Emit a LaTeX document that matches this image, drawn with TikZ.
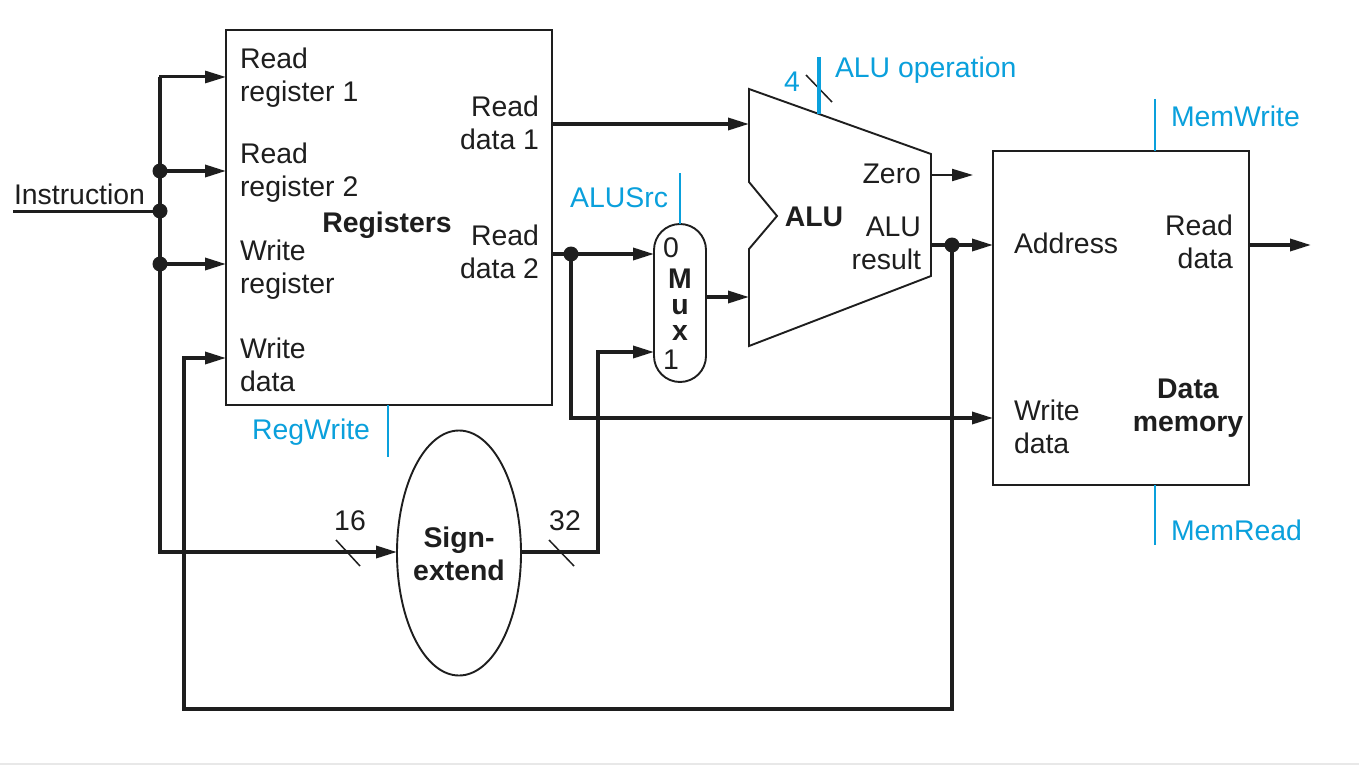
\documentclass[tikz,border=0pt]{standalone}
\usepackage{fontspec}
\setmainfont{Liberation Sans}
\usetikzlibrary{arrows.meta,shapes.geometric}
\definecolor{ctlblue}{HTML}{0AA0DC}
\definecolor{inkk}{HTML}{1E1E1E}
\tikzset{
  box/.style={draw=inkk,line width=1.9pt,inner sep=0pt,outer sep=0pt,fill=white},
  thickwire/.style={draw=inkk,line width=3.4pt,-{Triangle[length=21pt,width=12pt]},shorten >=0pt},
  plainwire/.style={draw=inkk,line width=3.4pt},
  thinwire/.style={draw=inkk,line width=2.2pt,-{Triangle[length=21pt,width=12pt]}},
  ctlwire/.style={draw=ctlblue,line width=2pt},
  slash/.style={draw=inkk,line width=1.5pt},
  dot/.style={circle,fill=inkk,inner sep=0pt,minimum size=15pt,outer sep=0pt},
  lbl/.style={font=\fontsize{28.4}{33}\selectfont,text=inkk,inner sep=0pt,outer sep=0pt},
  lbll/.style={lbl,anchor=west,align=left},
  lblr/.style={lbl,anchor=east,align=right},
  bold/.style={font=\fontsize{28.4}{33}\selectfont\bfseries,text=inkk,inner sep=0pt,outer sep=0pt,align=center},
  muxlbl/.style={font=\fontsize{28.4}{26}\selectfont\bfseries,text=inkk,inner sep=0pt,outer sep=0pt,align=center},
  ctl/.style={font=\fontsize{28.4}{33}\selectfont,text=ctlblue,inner sep=0pt,outer sep=0pt},
}
\begin{document}
\begin{tikzpicture}[x=1pt,y=-1pt]
\useasboundingbox (0,0) rectangle (1359,765);
\fill[white] (0,0) rectangle (1359,765);
\fill[black!9] (0,763) rectangle (1359,765);

% blocks
\node[box,minimum width=326pt,minimum height=375pt] (regs) at (389,217.5) {};
\node[box,minimum width=256pt,minimum height=334pt] (mem) at (1121,318) {};
\node[box,minimum width=52pt,minimum height=158pt,rounded corners=26pt] (mux) at (680,303) {};
\node[box,ellipse,minimum width=124pt,minimum height=245pt] (sext) at (459,553) {};
\coordinate (a1) at (749,89); \coordinate (a2) at (931,154); \coordinate (a3) at (931,276);
\coordinate (a4) at (749,346); \coordinate (a5) at (749,249); \coordinate (a6) at (777,216);
\coordinate (a7) at (749,182);
\draw[draw=inkk,line width=1.9pt,line join=miter] (a1) -- (a2) -- (a3) -- (a4) -- (a5) -- (a6) -- (a7) -- cycle;

% wire junctions and free ends
\coordinate (instrin) at (13,211);
\coordinate (trunktop) at (160,77);
\coordinate (trunkbot) at (160,552);
\node[dot] (j1) at (160,171) {};
\node[dot] (j2) at (160,211) {};
\node[dot] (j3) at (160,264) {};
\node[dot] (j4) at (571,254) {};
\node[dot] (j5) at (952,245) {};
\coordinate (rr1) at (226,77);
\coordinate (rr2) at (226,171);
\coordinate (wr) at (226,264);
\coordinate (wd) at (226,358);
\coordinate (rd1) at (552,124);
\coordinate (alua) at (749,124);
\coordinate (rd2) at (552,254);
\coordinate (mux0) at (654,254);
\coordinate (mux1) at (654,352);
\coordinate (muxout) at (706,297);
\coordinate (alub) at (749,297);
\coordinate (zero) at (931,175);
\coordinate (zeroout) at (973,175);
\coordinate (res) at (931,245);
\coordinate (addr) at (993,245);
\coordinate (memwd) at (993,418);
\coordinate (rdout) at (1249,245);
\coordinate (rdend) at (1311,245);
\coordinate (sextin) at (397,552);
\coordinate (sextout) at (521,552);
\coordinate (corner1) at (598,552);
\coordinate (corner2) at (598,352);
\coordinate (loop1) at (952,709);
\coordinate (loop2) at (184,709);
\coordinate (loop3) at (184,358);

% wires
\draw[plainwire,line width=3pt] (instrin) -- (j2.center);
\draw[plainwire,line join=miter] (trunktop) -- (trunkbot);
\draw[thickwire,line width=3pt,line cap=rect] (trunktop) -- (rr1);
\draw[thickwire] (j1.center) -- (rr2);
\draw[thickwire] (j3.center) -- (wr);
\draw[thickwire,line cap=rect] (trunkbot) -- (sextin);
\draw[thickwire] (rd1) -- (alua);
\draw[thickwire] (rd2) -- (mux0);
\draw[thickwire,line join=miter] (j4.center) |- (memwd);
\draw[thickwire,line join=miter] (sextout) -- (corner1) -- (corner2) -- (mux1);
\draw[thickwire] (muxout) -- (alub);
\draw[thinwire] (zero) -- (zeroout);
\draw[thickwire] (res) -- (addr);
\draw[thickwire] (rdout) -- (rdend);
\draw[thickwire,line join=miter] (j5.center) -- (loop1) -- (loop2) -- (loop3) -- (wd);

% bus slashes
\coordinate (s1a) at (336,540); \coordinate (s1b) at (360,566);
\coordinate (s2a) at (549,540); \coordinate (s2b) at (574,566);
\coordinate (s3a) at (806,75); \coordinate (s3b) at (832,102);
\draw[slash] (s1a) -- (s1b);
\draw[slash] (s2a) -- (s2b);
\draw[slash] (s3a) -- (s3b);

% control lines
\coordinate (opTop) at (819,57); \coordinate (opBot) at (819,114);
\coordinate (mwTop) at (1155,99);
\coordinate (mwBot) at (1155,151);
\coordinate (mrTop) at (1155,485);
\coordinate (mrBot) at (1155,545);
\coordinate (asTop) at (680,173);
\coordinate (rwTop) at (388,405);
\coordinate (rwBot) at (388,457);
\draw[ctlwire,line width=4pt] (opTop) -- (opBot);
\draw[ctlwire] (mwTop) -- (mwBot);
\draw[ctlwire] (mrTop) -- (mrBot);
\draw[ctlwire] (asTop) -- (mux.north);
\draw[ctlwire] (rwTop) -- (rwBot);

% black labels
\node[lbll] (tinstr) at (14,194) {Instruction};
\node[lbll] (t1) at (240,77.5) {Read\\register 1};
\node[lbll] (t2) at (240,173) {Read\\register 2};
\node[lbll] (t3) at (240,270) {Write\\register};
\node[lbll] (t4) at (240,365) {Write\\data};
\node[lblr] (t5) at (539,122.5) {Read\\data 1};
\node[lblr] (t6) at (539,251.5) {Read\\data 2};
\node[bold] (t7) at (387,225) {Registers};
\node[bold] (t8) at (814,217) {ALU};
\node[lblr] (t9) at (921,174) {Zero};
\node[lblr] (t10) at (921,243.5) {ALU\\result};
\node[lbll] (t11) at (1014,243) {Address};
\node[lblr] (t12) at (1233,242) {Read\\data};
\node[lbll] (t13) at (1014,426.5) {Write\\data};
\node[bold] (t14) at (1188,408.5) {Data\\memory};
\node[bold] (t15) at (459,553.5) {Sign-\\extend};
\node[lbl] (t16) at (350,521) {16};
\node[lbl] (t17) at (565,521) {32};
\node[lbl] (t18) at (671,248) {0};
\node[lbl] (t19) at (671,360) {1};
\node[muxlbl] (t20) at (680,305) {M\\u\\x};

% blue labels
\node[ctl] (c1) at (792,82) {4};
\node[ctl,anchor=west] (c2) at (835,70.5) {ALU operation};
\node[ctl,anchor=west] (c3) at (1171,116) {MemWrite};
\node[ctl,anchor=west] (c4) at (1171,530) {MemRead};
\node[ctl,anchor=east] (c5) at (668,198) {ALUSrc};
\node[ctl,anchor=east] (c6) at (370,432) {RegWrite};
\end{tikzpicture}
\end{document}
